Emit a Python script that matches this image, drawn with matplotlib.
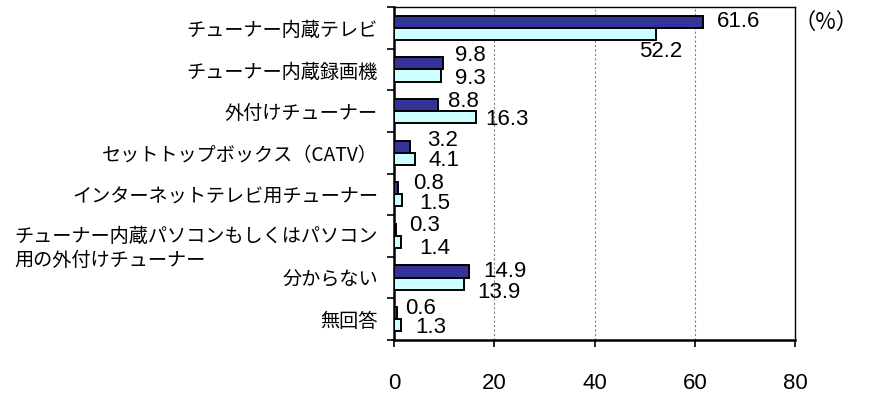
import matplotlib
matplotlib.use("Agg")
import matplotlib.pyplot as plt
from matplotlib.ticker import FixedLocator, NullFormatter
from matplotlib.transforms import ScaledTranslation

plt.rcParams['font.family'] = ['Noto Sans CJK JP', 'DejaVu Sans']

categories = [
    "チューナー内蔵テレビ",
    "チューナー内蔵録画機",
    "外付けチューナー",
    "セットトップボックス（CATV）",
    "インターネットテレビ用チューナー",
    "チューナー内蔵パソコンもしくはパソコン\n用の外付けチューナー",
    "分からない",
    "無回答",
]
series_a = [61.6, 9.8, 8.8, 3.2, 0.8, 0.3, 14.9, 0.6]
series_b = [52.2, 9.3, 16.3, 4.1, 1.5, 1.4, 13.9, 1.3]
x_ticks = [0, 20, 40, 60, 80]

# label nudges in pixels (dx from bar end, dy downward from bar centre)
nudge_a = [(14, 0), (12, -8), (10, -4), (17, -6), (15, -5), (14, -4), (15, 0), (8, -5)]
nudge_b = [(-17, 18), (14, 3), (10, 2), (14, 2), (18, 3), (18, 7), (14, 9), (15, 2)]

NUM_FONT = "Liberation Sans"
W, H, DPI = 869, 394, 100
fig = plt.figure(figsize=(W / DPI, H / DPI), dpi=DPI)
ax = fig.add_axes([394 / W, 1 - 340 / H, (795 - 394) / W, (340 - 7) / H])

n = len(categories)
pos = list(range(n))
bh = 0.29
pa = [p - bh / 2 for p in pos]
pb = [p + bh / 2 for p in pos]
ax.barh(pa, series_a, height=bh, color="#333399", edgecolor="black", linewidth=1.4, zorder=3)
ax.barh(pb, series_b, height=bh, color="#CCFFFF", edgecolor="black", linewidth=1.4, zorder=3)

px2pt = 72 / DPI
for y, v, (dx, dy) in zip(pa, series_a, nudge_a):
    ax.annotate(f"{v:.1f}", (v, y), xytext=(dx * px2pt, -dy * px2pt),
                textcoords="offset points", ha="left", va="center",
                fontsize=16, family=NUM_FONT, zorder=4)
for y, v, (dx, dy) in zip(pb, series_b, nudge_b):
    ax.annotate(f"{v:.1f}", (v, y), xytext=(dx * px2pt, -dy * px2pt),
                textcoords="offset points", ha="left", va="center",
                fontsize=16, family=NUM_FONT, zorder=4)

ax.set_xlim(0, 80)
ax.set_ylim(n - 0.5, -0.5)
ax.set_xticks(x_ticks)
ax.set_xticklabels([str(t) for t in x_ticks], fontsize=16, family=NUM_FONT)
ax.tick_params(axis="x", direction="out", length=5, width=1.2, pad=19)

ax.set_yticks(pos)
ax.set_yticklabels(categories, fontsize=13.8, linespacing=1.25, multialignment="left")
ax.tick_params(axis="y", which="major", length=0, pad=11.5)
ax.yaxis.set_minor_locator(FixedLocator([p - 0.5 for p in pos] + [n - 0.5]))
ax.yaxis.set_minor_formatter(NullFormatter())
ax.tick_params(axis="y", which="minor", direction="out", length=5, width=1.2)

# the two-line label sits a little lower than its group centre
two_line = ax.get_yticklabels()[5]
two_line.set_transform(two_line.get_transform() + ScaledTranslation(0, -8 / DPI, fig.dpi_scale_trans))

for t in x_ticks[1:-1]:
    ax.axvline(t, color="#808080", linestyle=(0, (2, 2)), linewidth=0.8, zorder=1)

for side in ["left", "bottom"]:
    ax.spines[side].set_linewidth(1.8)
for side in ["top", "right"]:
    ax.spines[side].set_linewidth(1.0)

fig.text(826 / W, 1 - 22 / H, "（%）", fontsize=16, ha="center", va="center")

fig.savefig("out.png", dpi=DPI)
